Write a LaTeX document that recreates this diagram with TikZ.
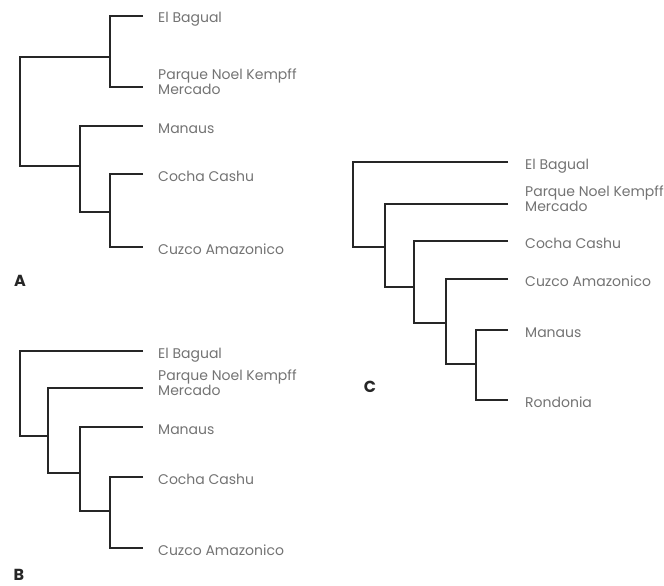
\documentclass[tikz,border=0pt]{standalone}
\usepackage{fontspec}
\setmainfont{Poppins}
\usetikzlibrary{calc}
\tikzset{
  branch/.style={line width=1.9pt, draw=black!85},
  lab/.style={anchor=base west, inner sep=0pt, text=black!55, font=\fontsize{14}{15}\selectfont, align=left},
  panel/.style={anchor=center, inner sep=0pt, font=\fontsize{16}{17}\selectfont\bfseries, text=black!85}
}
\begin{document}
\begin{tikzpicture}[x=1pt,y=-1pt]
\useasboundingbox (0,0) rectangle (664,586);
% ---------- Tree A ----------
\coordinate (aL1) at (143,16);
\coordinate (aL2) at (143,87);
\coordinate (aL3) at (143,126);
\coordinate (aL4) at (143,174);
\coordinate (aL5) at (143,247);
\coordinate (aN1) at (110,57);
\coordinate (aN2) at (110,212);
\coordinate (aN3) at (80,166);
\coordinate (aR) at (20,110);
\draw[branch] (aL1) -| (aN1) |- (aL2);
\draw[branch] (aL4) -| (aN2) |- (aL5);
\draw[branch] (aL3) -| (aN3) |- (aN2);
\draw[branch] (aN1) -| (aR) |- (aN3);
\node[lab] (aT1) at ($(aL1)+(15,7)$) {El Bagual};
\node[lab] (aT2) at ($(aL2)+(15,7)$) {Parque Noel Kempff\\Mercado};
\node[lab] (aT3) at ($(aL3)+(15,7)$) {Manaus};
\node[lab] (aT4) at ($(aL4)+(15,7)$) {Cocha Cashu};
\node[lab] (aT5) at ($(aL5)+(15,7)$) {Cuzco Amazonico};
\node[panel] (pA) at (20,281) {A};
% ---------- Tree B ----------
\coordinate (bL1) at (143,351);
\coordinate (bL2) at (143,388);
\coordinate (bL3) at (143,427);
\coordinate (bL4) at (143,477);
\coordinate (bL5) at (143,548);
\coordinate (bN4) at (110,511);
\coordinate (bN3) at (80,473);
\coordinate (bN2) at (48,436);
\coordinate (bR) at (20,400);
\draw[branch] (bL4) -| (bN4) |- (bL5);
\draw[branch] (bL3) -| (bN3) |- (bN4);
\draw[branch] (bL2) -| (bN2) |- (bN3);
\draw[branch] (bL1) -| (bR) |- (bN2);
\node[lab] (bT1) at ($(bL1)+(15,7)$) {El Bagual};
\node[lab] (bT2) at ($(bL2)+(15,7)$) {Parque Noel Kempff\\Mercado};
\node[lab] (bT3) at ($(bL3)+(15,7)$) {Manaus};
\node[lab] (bT4) at ($(bL4)+(15,7)$) {Cocha Cashu};
\node[lab] (bT5) at ($(bL5)+(15,7)$) {Cuzco Amazonico};
\node[panel] (pB) at (19,575) {B};
% ---------- Tree C ----------
\coordinate (cL1) at (508,162);
\coordinate (cL2) at (508,204);
\coordinate (cL3) at (508,241);
\coordinate (cL4) at (508,279);
\coordinate (cL5) at (508,330);
\coordinate (cL6) at (508,400);
\coordinate (cN5) at (476,364);
\coordinate (cN4) at (446,323);
\coordinate (cN3) at (414,287);
\coordinate (cN2) at (385,247);
\coordinate (cR) at (353,200);
\draw[branch] (cL5) -| (cN5) |- (cL6);
\draw[branch] (cL4) -| (cN4) |- (cN5);
\draw[branch] (cL3) -| (cN3) |- (cN4);
\draw[branch] (cL2) -| (cN2) |- (cN3);
\draw[branch] (cL1) -| (cR) |- (cN2);
\node[lab] (cT1) at ($(cL1)+(17,7)$) {El Bagual};
\node[lab] (cT2) at ($(cL2)+(17,7)$) {Parque Noel Kempff\\Mercado};
\node[lab] (cT3) at ($(cL3)+(17,7)$) {Cocha Cashu};
\node[lab] (cT4) at ($(cL4)+(17,7)$) {Cuzco Amazonico};
\node[lab] (cT5) at ($(cL5)+(17,7)$) {Manaus};
\node[lab] (cT6) at ($(cL6)+(17,7)$) {Rondonia};
\node[panel] (pC) at (370,387) {C};
\end{tikzpicture}
\end{document}
